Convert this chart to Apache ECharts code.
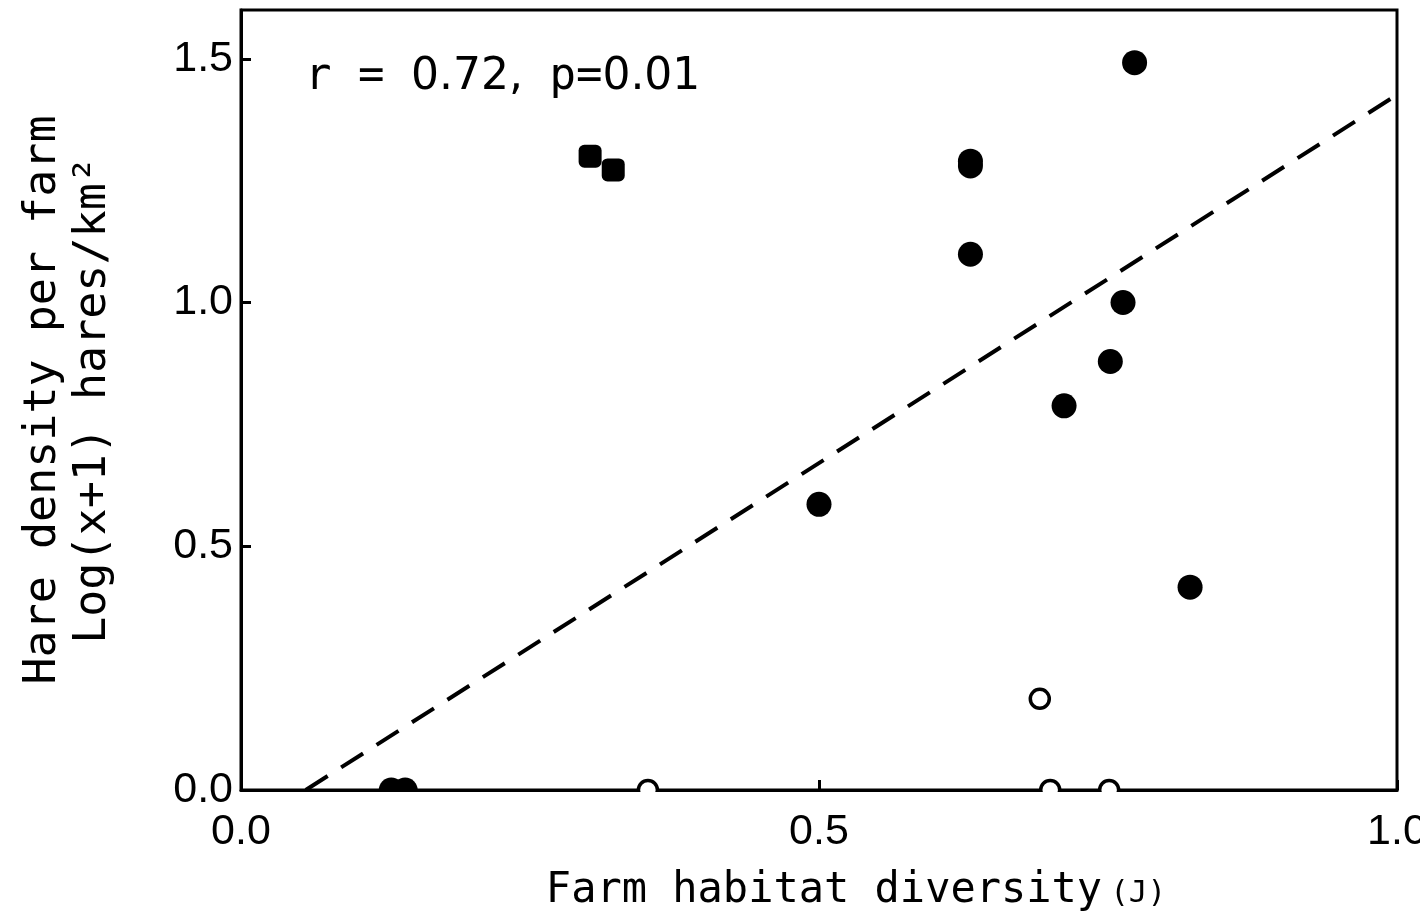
<!DOCTYPE html>
<html>
<head>
<meta charset="utf-8">
<script src="https://cdn.jsdelivr.net/npm/echarts@6/dist/echarts.min.js"></script>
<style>
html, body { margin: 0; padding: 0; background: #fff; }
#chart { width: 1420px; height: 915px; }
</style>
</head>
<body>
<div id="chart"></div>
<script>
// filled circles
var filledX = [0.130, 0.142, 0.500, 0.631, 0.631, 0.631, 0.712, 0.752, 0.763, 0.773, 0.821]
var filledY = [0, 0, 0.586, 1.099, 1.280, 1.290, 0.788, 0.879, 1.000, 1.492, 0.416]
// open circles
var openX = [0.352, 0.691, 0.700, 0.751]
var openY = [0, 0.187, 0, 0]
// filled squares
var squareX = [0.302, 0.322]
var squareY = [1.300, 1.272]
// regression line ends
var fitX = [0.056, 1.0]
var fitY = [0, 1.426]
var xTicks = [0, 0.5, 1.0]
var yTicks = [0, 0.5, 1.0, 1.5]

function pairs(xs, ys) {
	return xs.map(function(x, i) { return [x, ys[i]] })
}

var numFont = 'Liberation Sans'
var monoFont = 'DejaVu Sans Mono'

var myChart = echarts.init(document.getElementById('chart'));
var options = {
	animation: false,
	backgroundColor: '#fff',
	grid: {
		left: 241, right: 23, top: 10, bottom: 125,
		outerBoundsMode: 'none', containLabel: false,
		show: true, borderColor: '#000', borderWidth: 3
	},
	xAxis: {
		type: 'value', min: 0, max: 1, interval: 0.5,
		axisLine: { show: true, lineStyle: { color: '#000', width: 3 } },
		axisTick: { show: true, inside: true, length: 10, lineStyle: { color: '#000', width: 3 } },
		splitLine: { show: false },
		axisLabel: {
			color: '#000', fontFamily: numFont, fontSize: 43, margin: 21,
			formatter: function(v) { return xTicks.indexOf(v) >= 0 ? v.toFixed(1) : '' }
		},
		name: 'Farm habitat diversity{s|(J)}',
		nameLocation: 'middle', nameGap: 80,
		nameTextStyle: {
			color: '#000', fontFamily: monoFont, fontSize: 42, padding: [0, 0, 0, 74],
			rich: { s: { fontFamily: monoFont, fontSize: 31, color: '#000', padding: [6, 0, 0, 8] } }
		}
	},
	yAxis: {
		type: 'value', min: 0, max: 1.6, interval: 0.5,
		axisLine: { show: true, lineStyle: { color: '#000', width: 3 } },
		axisTick: { show: true, inside: true, length: 10, lineStyle: { color: '#000', width: 3 } },
		splitLine: { show: false },
		axisLabel: {
			color: '#000', fontFamily: numFont, fontSize: 43, margin: 8, showMaxLabel: false,
			formatter: function(v) { return yTicks.indexOf(v) >= 0 ? v.toFixed(1) : '' }
		},
		name: 'Hare density per farm\nLog(x+1) hares/km²',
		nameLocation: 'middle', nameGap: 123,
		nameTextStyle: {
			color: '#000', fontFamily: monoFont, fontSize: 45, lineHeight: 50
		}
	},
	graphic: [
		{
			// hide the lower half of the markers sitting on the x axis
			type: 'rect', z: 100,
			shape: { x: 241, y: 792, width: 1158, height: 16 },
			style: { fill: '#fff' }
		},
		{
			type: 'text', left: 305, top: 56, z: 100,
			style: {
				text: '{m|r = }0.72,{m| p=}0.01',
				font: '44px "DejaVu Sans"', fill: '#000',
				rich: { m: { fontFamily: monoFont, fontSize: 44, fill: '#000' } }
			}
		}
	],
	series: [
		{
			type: 'line', data: pairs(fitX, fitY), symbol: 'none', z: 1,
			lineStyle: { color: '#000', width: 4, type: [26, 16] }
		},
		{
			type: 'scatter', data: pairs(filledX, filledY), symbol: 'circle', symbolSize: 25, z: 3,
			itemStyle: { color: '#000', opacity: 1 }
		},
		{
			type: 'scatter', data: pairs(openX, openY), symbol: 'circle', symbolSize: 19, z: 3,
			itemStyle: { color: '#fff', borderColor: '#000', borderWidth: 3.5, opacity: 1 }
		},
		{
			type: 'scatter', data: pairs(squareX, squareY), symbol: 'roundRect', symbolSize: 23, z: 3,
			itemStyle: { color: '#000', opacity: 1 }
		}
	]
}
myChart.setOption(options);
</script>
</body>
</html>
